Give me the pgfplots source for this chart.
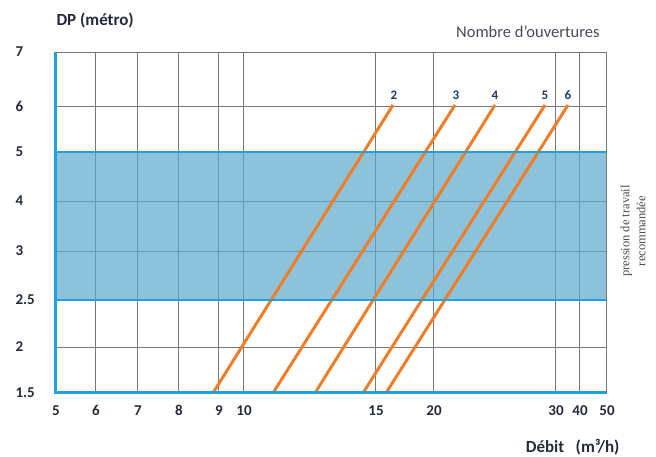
\documentclass[border=0pt]{standalone}
\usepackage{pgfplots}
\pgfplotsset{compat=1.18}
\usepackage{fontspec}
\setmainfont{Carlito}
\newfontfamily\seriffont{Liberation Serif}
\definecolor{bandblue}{RGB}{91,169,202}
\definecolor{lineblue}{RGB}{30,160,225}
\definecolor{curve}{RGB}{240,125,40}
\definecolor{navy}{RGB}{35,42,60}
\definecolor{numnavy}{RGB}{31,56,100}
\definecolor{gridgray}{RGB}{120,120,120}

\begin{document}
\begin{tikzpicture}
\useasboundingbox (-55pt,-64pt) rectangle (601pt,393pt);
\begin{axis}[
    scale only axis,
    width=551pt, height=341pt,
    xmin=55, xmax=606, ymin=0, ymax=341,
    % positions of the grid lines on the chart's own (irregular) scale
    xtick={55,95,137,178,218,243,375,433,555,579,606},
    xticklabels={5,6,7,8,9,10,15,20,30,40,50},
    ytick={0,46,93,142,192,241,287,341},
    yticklabels={1.5,2,2.5,3,4,5,6,7},
    grid=major,
    grid style={gridgray, line width=0.8pt},
    axis line style={gridgray, line width=0.8pt},
    tick style={draw=none},
    /pgf/number format/assume math mode=true,
    ticklabel style={font=\bfseries\fontsize{15}{15}\selectfont, text=navy},
    yticklabel style={anchor=west, xshift=-43pt},
    xticklabel style={yshift=-9pt},
    xticklabel style={xshift=1pt},
    clip=false,
]
% recommended working pressure band (2.5 to 5)
\fill[bandblue, fill opacity=0.7] (axis cs:55,93) rectangle (axis cs:606,241);

% number of openings
\addplot[curve, line width=3pt] coordinates {(213,0) (393,288)};
\addplot[curve, line width=3pt] coordinates {(273,0) (455,288)};
\addplot[curve, line width=3pt] coordinates {(315,0) (495,288)};
\addplot[curve, line width=3pt] coordinates {(363,0) (545,288)};
\addplot[curve, line width=3pt] coordinates {(386,0) (568,288)};

\begin{scope}[every node/.style={font=\bfseries\fontsize{13}{13}\selectfont, text=numnavy}]
\node at (axis cs:394,298) {2};
\node at (axis cs:456,298) {3};
\node at (axis cs:495,298) {4};
\node at (axis cs:545,298) {5};
\node at (axis cs:568,298) {6};
\end{scope}

\coordinate (tl) at (axis cs:55,341);
\coordinate (bl) at (axis cs:55,0);
\coordinate (br) at (axis cs:606,0);
\coordinate (lo1) at (axis cs:55,93);
\coordinate (lo2) at (axis cs:606,93);
\coordinate (hi1) at (axis cs:55,241);
\coordinate (hi2) at (axis cs:606,241);
\end{axis}

\draw[lineblue, line width=2.5pt] (lo1) -- (lo2);
\draw[lineblue, line width=2.5pt] (hi1) -- (hi2);
\draw[lineblue, line width=3pt] (tl) -- (bl) -- (br);

\node[anchor=west, font=\bfseries\fontsize{17}{17}\selectfont, text=navy] at (-2pt,373pt) {DP (métro)};
\node[anchor=east, font=\fontsize{16.5}{16.5}\selectfont, text=navy!85] at (548pt,361pt) {Nombre d'ouvertures};
\node[anchor=east, font=\bfseries\fontsize{17}{17}\selectfont, text=navy] at (568pt,-54pt) {Débit\;\, (m³/h)};
\node[rotate=90, align=center, font=\seriffont\fontsize{12.5}{16}\selectfont, text=black!70] at (578pt,162pt) {pression de travail\\recommandée};
\end{tikzpicture}
\end{document}
